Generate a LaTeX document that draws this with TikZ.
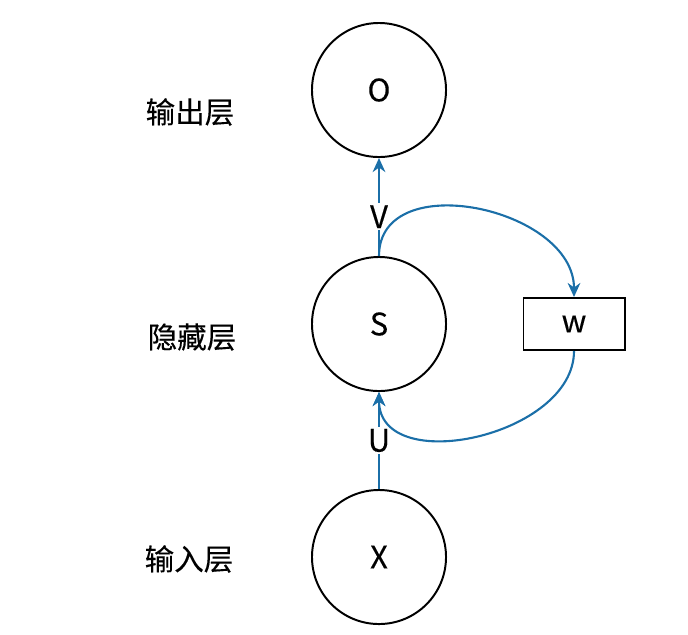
\documentclass[tikz,border=0pt]{standalone}
\usepackage{fontspec}
\setmainfont{Noto Sans CJK SC}[FakeBold=0.25,AutoFakeBold=0.25]
\usetikzlibrary{arrows.meta}
\definecolor{sininen}{HTML}{1B6FA8}

\begin{document}
\begin{tikzpicture}[x=0.025cm,y=-0.025cm,
		solu/.style={draw,circle,line width=1.4pt,minimum size=3.35cm,inner sep=0pt,font=\fontsize{22}{24}\selectfont\bfseries},
		laatikko/.style={draw,rectangle,line width=1.4pt,minimum width=2.525cm,minimum height=1.3cm,inner sep=0pt,font=\fontsize{22}{24}\selectfont\bfseries},
		kerros/.style={font=\fontsize{21}{23}\selectfont\bfseries},
		nuoli/.style={draw=sininen,line width=1.5pt,-{Stealth[length=10pt,width=9pt]}},
		paino/.style={fill=white,inner sep=1.5pt,font=\fontsize{22}{24}\selectfont\bfseries}]
				\useasboundingbox (0,0) rectangle (688,634);
				\node[solu] (O) at (379,90) {O};
				\node[solu] (S) at (379,324) {S};
				\node[solu] (X) at (379,557) {X};
				\node[laatikko] (w) at (574,324) {w};
				\node[kerros] (out) at (190,112) {输出层};
				\node[kerros] (hid) at (192,337) {隐藏层};
				\node[kerros] (in) at (189,559) {输入层};
				\draw[nuoli] (S.north) -- node[paino,pos=0.4] {V} (O.south);
				\draw[nuoli] (X.north) -- node[paino] {U} (S.south);
				\draw[nuoli] (S.north) to[out=90,in=90,looseness=1.15] (w.north);
				\draw[nuoli] (w.south) to[out=-90,in=-90,looseness=1.1] (S.south);
			\end{tikzpicture}
\end{document}
